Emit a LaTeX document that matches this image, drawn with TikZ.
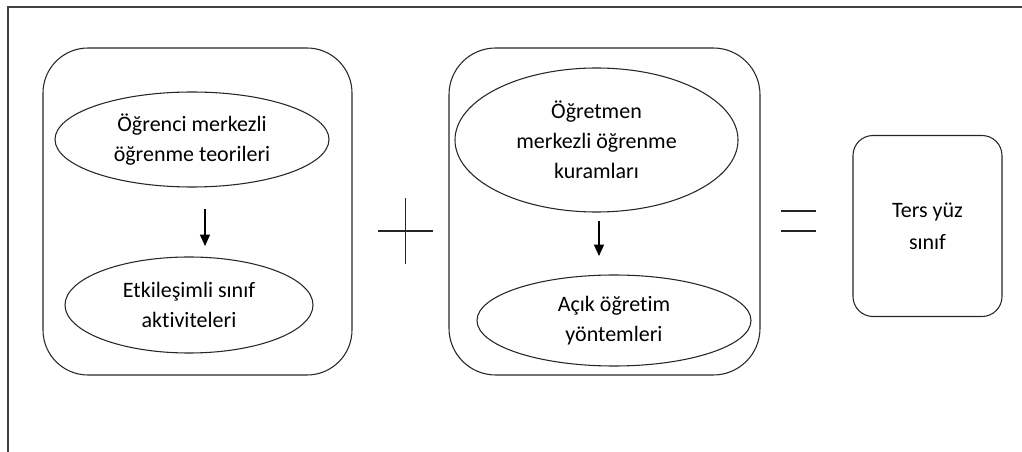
\documentclass[tikz,border=0pt]{standalone}
\usepackage{fontspec}
\setmainfont{Carlito}[Ligatures=NoCommon]
\usetikzlibrary{shapes.geometric,arrows.meta}
\begin{document}
\begin{tikzpicture}[x=0.75pt,y=-0.75pt,
  line width=0.8pt,
  bigbox/.style={draw=black!85,rectangle,rounded corners=#1,inner sep=0pt},
  oval/.style={draw=black!85,ellipse,inner sep=0pt,align=center,
    font=\fontsize{16.5}{22.5}\selectfont},
  arr/.style={-{Triangle[width=7.5pt,length=8.5pt]},line width=0.9pt},
  sym/.style={line width=1pt,black!85},
  frame/.style={line width=1.2pt,black!75}]
\useasboundingbox (0,0) rectangle (1022,452);
% outer frame (open at right and bottom)
\draw[frame] (8,452) -- (8,7) -- (1022,7);
% left group
\node[bigbox=33.75pt,minimum width=231.75pt,minimum height=245.25pt] (b1) at (197.5,211.5) {};
\node[oval,minimum width=205.5pt,minimum height=71.25pt] (e1) at (192,139.5) {Öğrenci merkezli\\öğrenme teorileri};
\node[oval,minimum width=186pt,minimum height=72pt] (e2) at (189,305) {Etkileşimli sınıf\\aktiviteleri};
\coordinate (a1s) at (205,209);
\coordinate (a1e) at (205,246);
\draw[arr] (a1s) -- (a1e);
% plus sign
\draw[sym] (378,231) -- (433,231);
\draw[sym] (405.5,198) -- (405.5,264);
% middle group
\node[bigbox=35pt,minimum width=233.25pt,minimum height=245.25pt] (b2) at (604.5,211.5) {};
\node[oval,minimum width=212.25pt,minimum height=108pt] (e3) at (596.5,140) {Öğretmen\\merkezli öğrenme\\kuramları};
\node[oval,minimum width=205.5pt,minimum height=68.25pt] (e4) at (614,320.5) {Açık öğretim\\yöntemleri};
\coordinate (a2s) at (599,221);
\coordinate (a2e) at (599,256);
\draw[arr] (a2s) -- (a2e);
% equals sign
\draw[sym] (781,211) -- (816,211);
\draw[sym] (781,231) -- (816,231);
% result box
\node[bigbox=15pt,minimum width=111.75pt,minimum height=135.75pt,align=center,
  font=\fontsize{16.5}{24}\selectfont] (b3) at (927.5,226) {Ters yüz\\sınıf};
\end{tikzpicture}
\end{document}
